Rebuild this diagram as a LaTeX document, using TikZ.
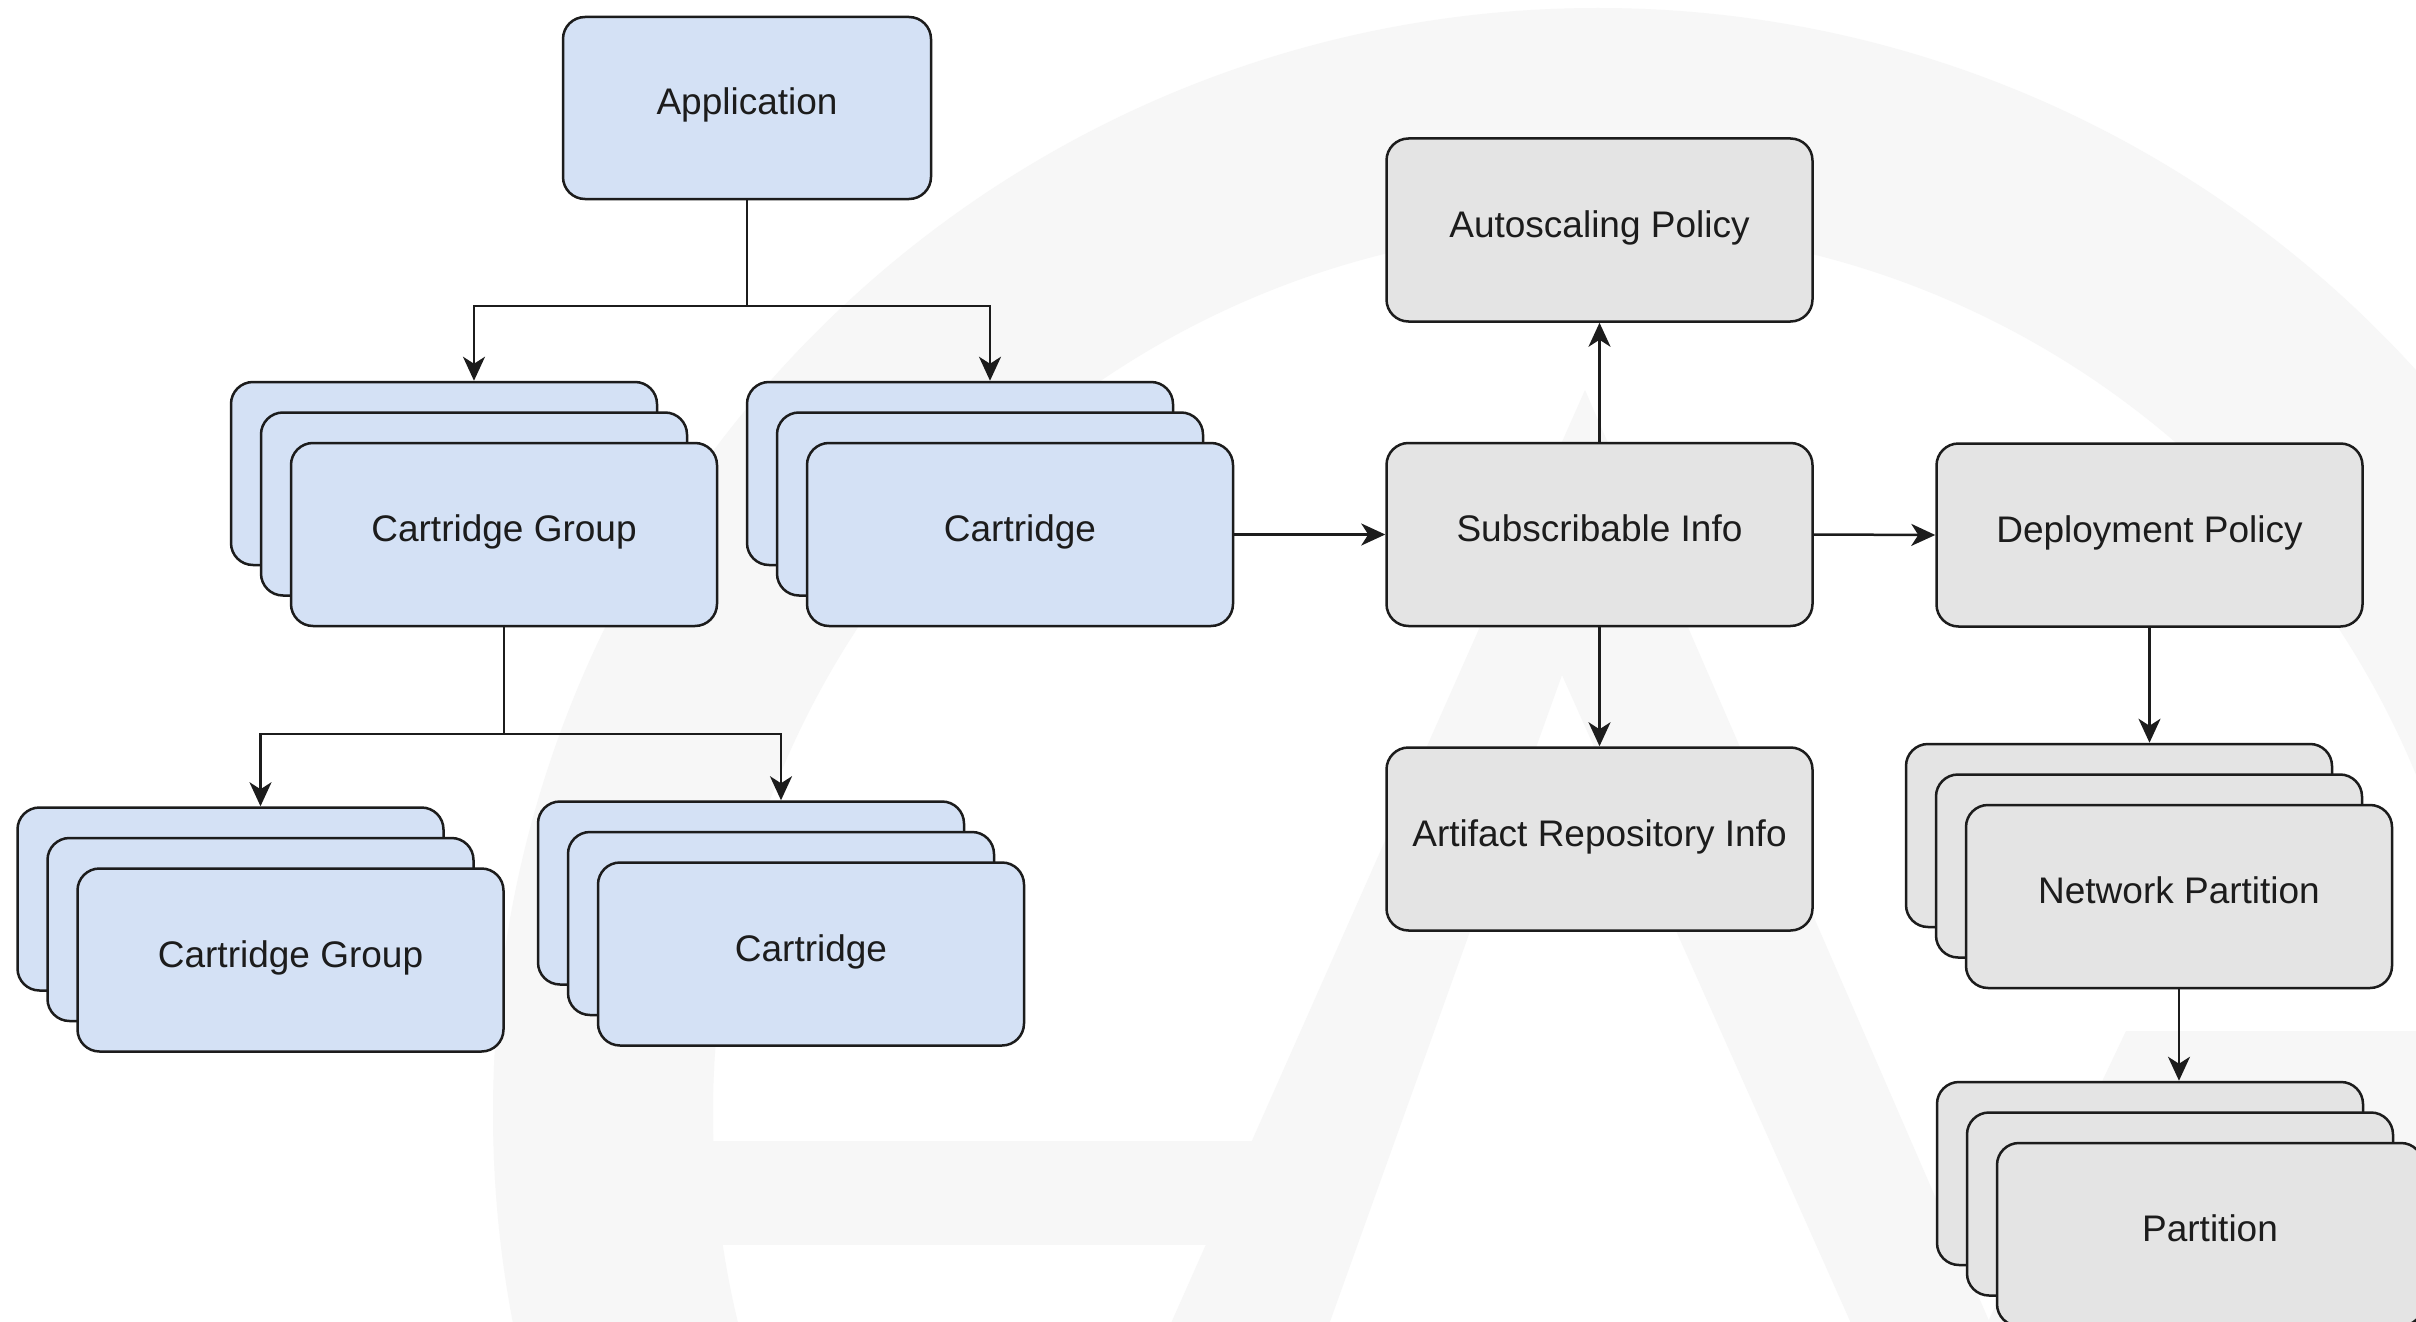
\documentclass[tikz,border=0pt]{standalone}
\usepackage{fontspec}
\setmainfont{Liberation Sans}
\usetikzlibrary{arrows.meta}

\definecolor{bluefill}{HTML}{D4E1F5}
\definecolor{grayfill}{HTML}{E4E4E4}
\definecolor{inkc}{HTML}{1C1C1C}
\definecolor{wmark}{HTML}{F7F7F7}

\tikzset{
  box/.style={draw=inkc, line width=1.25pt, rounded corners=11pt,
    minimum width=213pt, minimum height=91.5pt, inner sep=0pt,
    font=\fontsize{18.5pt}{22pt}\selectfont, text=inkc,
    text height=12pt, text depth=5pt},
  bluebox/.style={box, fill=bluefill},
  graybox/.style={box, fill=grayfill},
  link/.style={draw=inkc, line width=1.25pt,
    -{Stealth[length=12pt, width=11pt, inset=3.5pt]}},
}

\begin{document}
\begin{tikzpicture}[x=0.5pt, y=-0.5pt]
\useasboundingbox (0,0) rectangle (2416,1322);
\clip (0,0) rectangle (2416,1322);
\fill[white] (0,0) rectangle (2416,1322);

% faint logo in the background: ring and a stylised A
\fill[wmark, even odd rule] (1598,1113) circle[radius=552.5pt] (1598,1113) circle[radius=442.5pt];
\fill[wmark] (1585,390) -- (1168,1330) -- (1327,1330) -- (1562,675) -- (1854,1330) -- (1993,1330) -- cycle;
\fill[wmark] (700,1141) rectangle (1290,1245);
\fill[wmark] (2126,1031) -- (2430,1031) -- (2430,1330) -- (1984,1330) -- cycle;

% application
\node[bluebox, minimum width=184pt, minimum height=91pt] (app) at (747,108) {Application};

% first level: cartridge group stack and cartridge stack
\node[bluebox] (cgA3) at (444,473.5) {};
\node[bluebox] (cgA2) at (474,504) {};
\node[bluebox] (cgA)  at (504,534.5) {Cartridge Group};

\node[bluebox] (caA3) at (960,473.5) {};
\node[bluebox] (caA2) at (990,504) {};
\node[bluebox] (caA)  at (1020,534.5) {Cartridge};

% second level: nested cartridge group and cartridge stacks
\node[bluebox] (cgB3) at (230.5,899) {};
\node[bluebox] (cgB2) at (260.5,929.5) {};
\node[bluebox] (cgB)  at (290.5,960) {Cartridge Group};

\node[bluebox] (caB3) at (751,893) {};
\node[bluebox] (caB2) at (781,923.5) {};
\node[bluebox] (caB)  at (811,954) {Cartridge};

% subscription related definitions
\node[graybox] (sub)  at (1599.5,534.5) {Subscribable Info};
\node[graybox] (auto) at (1599.5,230) {Autoscaling Policy};
\node[graybox] (art)  at (1599.5,839) {Artifact Repository Info};
\node[graybox] (dep)  at (2149.5,535) {Deployment Policy};

\node[graybox] (np3) at (2119,835.5) {};
\node[graybox] (np2) at (2149,866) {};
\node[graybox] (np)  at (2179,896.5) {Network Partition};

\node[graybox] (pa3) at (2150,1173.5) {};
\node[graybox] (pa2) at (2180,1204) {};
\node[graybox] (pa)  at (2210,1234.5) {Partition};

% connectors
\coordinate (busA) at (747,306);
\draw[link] (app.south) -- (busA) -| (cgA2.north |- cgA3.north);
\draw[link] (busA) -| (caA2.north |- caA3.north);

\coordinate (busB) at (504,734);
\draw[link] (cgA.south) -- (busB) -| (cgB2.north |- cgB3.north);
\draw[link] (busB) -| (caB2.north |- caB3.north);

\draw[link] (caA.east) -- (sub.west);
\draw[link] (sub.north) -- (auto.south);
\draw[link] (sub.south) -- (art.north);
\draw[link] (sub.east) -- (dep.west);
\draw[link] (dep.south) -- (dep.south |- np3.north);
\draw[link] (np.south) -- (np.south |- pa3.north);
\end{tikzpicture}
\end{document}
